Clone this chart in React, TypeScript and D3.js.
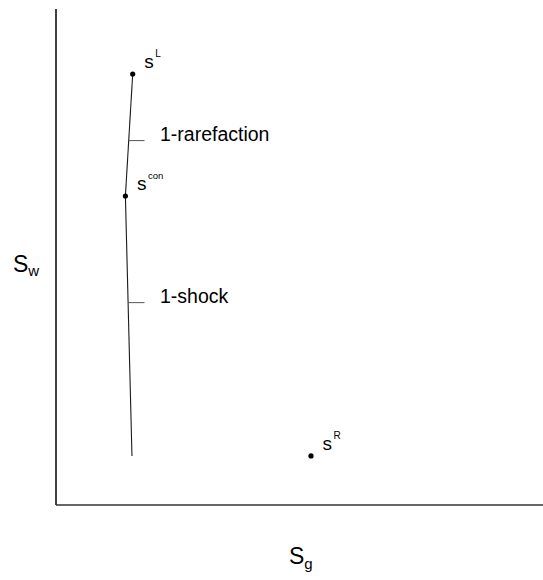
import React from "react";
import * as d3 from "d3";

// Phase-plane sketch: saturation of water (s_w) vs. saturation of gas (s_g)
const rarefactionCurve: [number, number][] = [
  [0.1575, 0.869],
  [0.1425, 0.623],
];
const shockCurve: [number, number][] = [
  [0.1425, 0.623],
  [0.156, 0.099],
];
const stateNames = ["L", "con", "R"];
const stateSg = [0.1575, 0.1425, 0.5236];
const stateSw = [0.869, 0.623, 0.099];
const waveNames = ["1-rarefaction", "1-shock"];
const waveSw = [0.7347, 0.408];

const W = 543;
const H = 580;
const left = 56;
const right = 543;
const top = 9;
const bottom = 505;
const FONT = "'Liberation Sans', Arial, Helvetica, sans-serif";

export default function App() {
  const x = d3.scaleLinear().domain([0, 1]).range([left, right]);
  const y = d3.scaleLinear().domain([0, 1]).range([bottom, top]);
  const line = d3
    .line<[number, number]>()
    .x((d) => x(d[0]))
    .y((d) => y(d[1]));

  const curves = [rarefactionCurve, shockCurve];

  // horizontal position of the wave curve at a given s_w
  const curveX = (sw: number) => {
    for (const c of curves) {
      const [a, b] = c;
      const lo = Math.min(a[1], b[1]);
      const hi = Math.max(a[1], b[1]);
      if (sw >= lo && sw <= hi) {
        const t = (sw - a[1]) / (b[1] - a[1]);
        return x(a[0] + t * (b[0] - a[0]));
      }
    }
    return x(curves[0][0][0]);
  };

  return (
    <svg
      width={W}
      height={H}
      style={{ position: "absolute", left: 0, top: 0, background: "#fff" }}
      fontFamily={FONT}
    >
      {/* axes */}
      <line x1={left} y1={top} x2={left} y2={bottom} stroke="#000" strokeWidth={1.5} />
      <line x1={left} y1={bottom} x2={right} y2={bottom} stroke="#333" strokeWidth={1.3} />

      {/* axis titles */}
      <text x={13} y={272} fontSize={23} fill="#000">
        S<tspan fontSize={15} dy={4}>w</tspan>
      </text>
      <text x={289} y={564} fontSize={23} fill="#000">
        S<tspan fontSize={15} dy={5}>g</tspan>
      </text>

      {/* wave curves */}
      {curves.map((c, i) => (
        <path key={i} d={line(c) || ""} fill="none" stroke="#1a1a1a" strokeWidth={1.1} />
      ))}

      {/* wave labels with leader ticks */}
      {waveNames.map((name, i) => {
        const yy = y(waveSw[i]);
        const cx = curveX(waveSw[i]);
        return (
          <g key={name}>
            <line x1={cx} y1={yy} x2={144.5} y2={yy} stroke="#555" strokeWidth={1} />
            <text x={160} y={yy + 0.5} fontSize={19.5} fill="#000">
              {name}
            </text>
          </g>
        );
      })}

      {/* states */}
      {stateNames.map((n, i) => {
        const px = x(stateSg[i]);
        const py = y(stateSw[i]);
        return (
          <g key={n}>
            <circle cx={px} cy={py} r={2.6} fill="#000" />
            <text x={px + 11.5} y={py - 6} fontSize={19} fill="#000">
              s
              <tspan fontSize={n === "con" ? 9.5 : 10} dx={1.5} dy={-11}>
                {n}
              </tspan>
            </text>
          </g>
        );
      })}
    </svg>
  );
}
